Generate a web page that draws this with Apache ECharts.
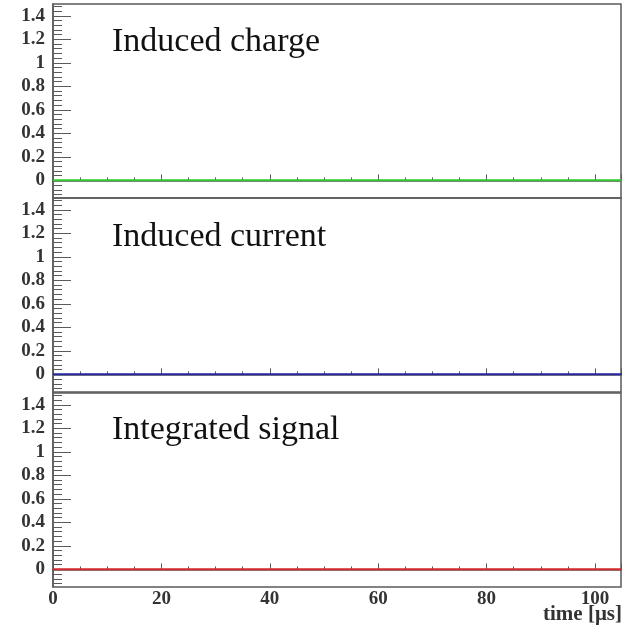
<!DOCTYPE html>
<html>
<head>
<meta charset="utf-8">
<script src="https://cdn.jsdelivr.net/npm/echarts@6/dist/echarts.min.js"></script>
<style>
  html, body { margin: 0; padding: 0; background: #fff; }
  #chart { width: 627px; height: 627px; }
</style>
</head>
<body>
<div id="chart"></div>
<script>
// data
const timeUs = [0, 20, 40, 60, 80, 100, 105];
const inducedCharge = [0, 0, 0, 0, 0, 0, 0];
const inducedCurrent = [0, 0, 0, 0, 0, 0, 0];
const integratedSignal = [0, 0, 0, 0, 0, 0, 0];
const panelTitles = ['Induced charge', 'Induced current', 'Integrated signal'];
const yTickLabels = [0, 0.2, 0.4, 0.6, 0.8, 1, 1.2, 1.4];
const xTickLabels = [0, 20, 40, 60, 80, 100];

// minor ticks every 0.04 on y
const yMinor = [];
for (let k = -3; k <= 37; k++) yMinor.push(+(k * 0.04).toFixed(2));

const panelTops = [4, 198, 393];
const panelH = 194;
const lineColors = ['#2fc82f', '#2626a0', '#d22a2a'];
const seriesData = [inducedCharge, inducedCurrent, integratedSignal];
const titleTops = [20, 215, 408];
const font = '"Liberation Serif", "DejaVu Serif", serif';
const axisCol = '#5a5a5a';

const grids = [], xAxes = [], yAxes = [], series = [], titles = [];

panelTops.forEach((top, i) => {
  grids.push({
    left: 53, right: 6, top: top, height: panelH,
    show: true, borderColor: axisCol, borderWidth: 1.5, backgroundColor: 'transparent'
  });
  xAxes.push({
    type: 'value', gridIndex: i, min: 0, max: 104.8, interval: 20,
    axisLine: { show: true, lineStyle: { color: axisCol, width: 1.5 } },
    axisTick: { show: true, inside: true, length: 6, lineStyle: { color: axisCol } },
    minorTick: { show: true, splitNumber: 4, length: 3, lineStyle: { color: axisCol } },
    splitLine: { show: false },
    axisLabel: {
      show: i === 2, margin: 3, color: '#333', fontFamily: font, fontSize: 19, fontWeight: 'bold',
      formatter: v => xTickLabels.indexOf(v) >= 0 ? String(v) : ''
    }
  });
  // major ticks + labels
  yAxes.push({
    type: 'value', gridIndex: i, min: -0.15, max: 1.5, position: 'left',
    axisLine: { show: true, lineStyle: { color: axisCol, width: 1.5 } },
    axisTick: { show: true, inside: true, length: 18, customValues: yTickLabels, lineStyle: { color: axisCol } },
    axisLabel: {
      show: true, margin: 8, customValues: yTickLabels,
      color: '#333', fontFamily: font, fontSize: 19, fontWeight: 'bold',
      formatter: v => String(v)
    },
    splitLine: { show: false }
  });
  // minor ticks
  yAxes.push({
    type: 'value', gridIndex: i, min: -0.15, max: 1.5, position: 'left', offset: 0,
    axisLine: { show: false },
    axisTick: { show: true, inside: true, length: 9, customValues: yMinor, lineStyle: { color: axisCol } },
    axisLabel: { show: false },
    splitLine: { show: false }
  });
  series.push({
    type: 'line', xAxisIndex: i, yAxisIndex: 2 * i,
    data: timeUs.map((t, j) => [t, seriesData[i][j]]),
    showSymbol: false, silent: true,
    lineStyle: { color: lineColors[i], width: 2 }
  });
  titles.push({
    text: panelTitles[i], left: 107, top: titleTops[i],
    textStyle: { fontFamily: font, fontSize: 34, fontWeight: 'normal', color: '#111' }
  });
});

const chart = echarts.init(document.getElementById('chart'));
chart.setOption({
  animation: false,
  backgroundColor: '#fff',
  title: titles,
  grid: grids,
  xAxis: xAxes,
  yAxis: yAxes,
  series: series,
  graphic: [{
    type: 'text', right: 5, top: 604,
    style: { text: 'time [\u03bcs]', font: 'bold 21px ' + font, fill: '#333' }
  }]
});
</script>
</body>
</html>
